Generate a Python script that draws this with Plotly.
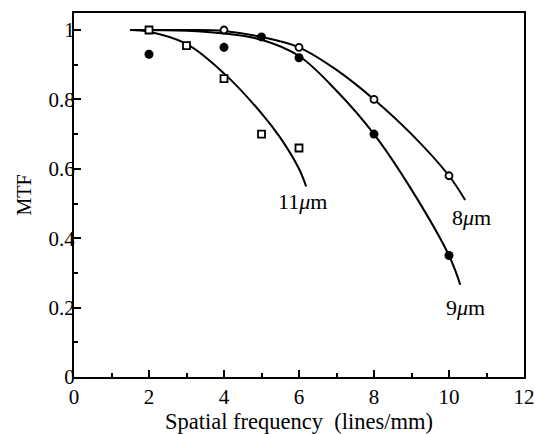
import plotly.graph_objects as go

# measured points
x8 = [4, 6, 8, 10]
y8 = [1.0, 0.95, 0.80, 0.58]
x9 = [2, 4, 5, 6, 8, 10]
y9 = [0.93, 0.95, 0.98, 0.92, 0.70, 0.35]
x11 = [2, 3, 4, 5, 6]
y11 = [1.0, 0.955, 0.86, 0.70, 0.66]

# fitted curves
c8_x = [1.5, 3, 4, 5, 6, 7, 8, 9, 10, 10.43]
c8_y = [1.0, 1.0, 0.997, 0.98, 0.95, 0.885, 0.80, 0.70, 0.58, 0.51]
c9_x = [1.5, 3, 4, 5, 6, 7, 8, 9, 10, 10.3]
c9_y = [1.0, 0.998, 0.99, 0.972, 0.925, 0.825, 0.70, 0.54, 0.35, 0.266]
c11_x = [1.5, 2, 3, 4, 5, 5.5, 6, 6.19]
c11_y = [1.0, 0.995, 0.96, 0.875, 0.76, 0.69, 0.60, 0.549]

labels = ["8<i>μ</i>m", "9<i>μ</i>m", "11<i>μ</i>m"]
label_x = [10.6, 10.45, 6.1]
label_y = [0.46, 0.20, 0.505]

FONT = "Liberation Serif"
fig = go.Figure()
for cx, cy in [(c8_x, c8_y), (c9_x, c9_y), (c11_x, c11_y)]:
    fig.add_trace(go.Scatter(x=cx, y=cy, mode="lines", line=dict(color="black", width=2, shape="spline", smoothing=1.0),
                             hoverinfo="skip", showlegend=False))

fig.add_trace(go.Scatter(x=x8, y=y8, mode="markers",
                         marker=dict(symbol="circle", size=7, color="white", line=dict(color="black", width=1.8)),
                         showlegend=False))
fig.add_trace(go.Scatter(x=x9, y=y9, mode="markers",
                         marker=dict(symbol="circle", size=9, color="black", line=dict(color="black", width=0)),
                         showlegend=False))
fig.add_trace(go.Scatter(x=x11, y=y11, mode="markers",
                         marker=dict(symbol="square", size=7, color="white", line=dict(color="black", width=1.8)),
                         showlegend=False))

for t, lx, ly in zip(labels, label_x, label_y):
    fig.add_annotation(x=lx, y=ly, text=t, showarrow=False, font=dict(family=FONT, size=22, color="black"))

axis_common = dict(showgrid=False, zeroline=False, showline=True, linecolor="black", linewidth=2,
                   mirror=True, ticks="inside", tickcolor="black", tickwidth=2, ticklen=7,
                   ticklabeloverflow="allow", automargin=False,
                   tickfont=dict(family=FONT, size=21, color="black"))
fig.update_xaxes(range=[0, 12], dtick=2, tick0=0,
                 minor=dict(ticks="inside", dtick=1, ticklen=4, tickcolor="black", tickwidth=2),
                 title=dict(text="Spatial frequency  (lines/mm)", font=dict(family=FONT, size=22.5, color="black"), standoff=5),
                 **axis_common)
fig.update_yaxes(range=[0, 1.049], dtick=0.2, tick0=0, ticklabelstandoff=-7,
                 minor=dict(ticks="inside", dtick=0.1, ticklen=4, tickcolor="black", tickwidth=2),
                 title=dict(text="MTF", font=dict(family=FONT, size=20, color="black"), standoff=12),
                 **axis_common)
fig.update_layout(width=535, height=434, margin=dict(l=74, r=11, t=13, b=57),
                  plot_bgcolor="white", paper_bgcolor="white", font=dict(family=FONT, color="black"))
fig.write_html("out.html")
